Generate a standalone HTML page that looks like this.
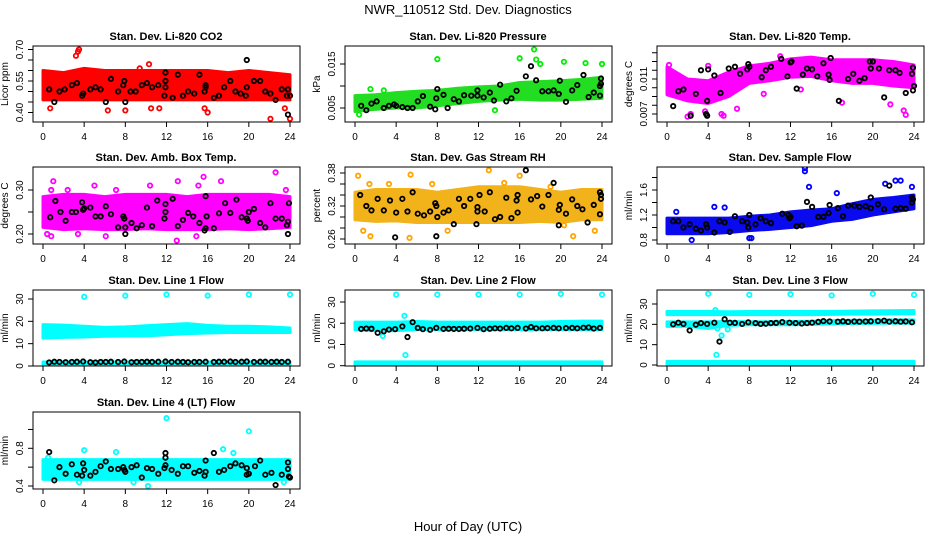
<!DOCTYPE html>
<html><head><meta charset="utf-8"><style>
html,body{margin:0;padding:0;background:#fff;}
svg{display:block;font-family:"Liberation Sans",Arial,sans-serif;}
</style></head><body>
<svg id="chart" width="936" height="540" viewBox="0 0 936 540" xmlns="http://www.w3.org/2000/svg">
<rect x="0" y="0" width="936" height="540" fill="#fff"/>
<text x="468" y="14" font-size="13" text-anchor="middle">NWR_110512  Std. Dev. Diagnostics</text>
<text x="468" y="531" font-size="13" text-anchor="middle">Hour of Day (UTC)</text>
<g id="panels"></g>
</svg>
<script>
// ---- data ----
const bandHours = [0,2,4,6,8,10,12,14,16,18,20,22,24];
const co2Lo = [0.46,0.46,0.46,0.46,0.46,0.46,0.46,0.46,0.46,0.46,0.46,0.46,0.46];
const co2Hi = [0.60,0.59,0.61,0.60,0.60,0.60,0.60,0.60,0.60,0.59,0.60,0.59,0.58];
const co2Out = [[3.2,0.67],[3.4,0.69],[3.5,0.70],[0.7,0.42],[6.3,0.41],[8.0,0.41],[10.5,0.42],[11.3,0.42],[15.7,0.42],[16.0,0.40],[22.1,0.37],[24.0,0.37],[10.3,0.63],[9.4,0.61],[23.5,0.42],[0.2,0.58],[6.0,0.59],[21.0,0.58]];
const co2Black = [[0.6,0.51],[1.1,0.45],[1.6,0.50],[2.1,0.51],[2.8,0.53],[3.3,0.54],[3.8,0.48],[3.9,0.49],[4.6,0.51],[5.1,0.52],[5.6,0.51],[6.1,0.45],[6.6,0.56],[7.3,0.50],[7.8,0.53],[7.9,0.55],[8.0,0.45],[8.5,0.50],[9.0,0.50],[9.6,0.53],[10.1,0.54],[10.6,0.52],[11.2,0.53],[11.8,0.48],[11.9,0.55],[11.9,0.52],[11.9,0.59],[12.6,0.47],[13.1,0.58],[13.6,0.48],[14.1,0.50],[14.7,0.49],[15.2,0.58],[15.7,0.50],[15.8,0.53],[15.8,0.52],[16.6,0.47],[17.1,0.48],[17.6,0.52],[18.2,0.55],[18.7,0.50],[19.2,0.49],[19.7,0.48],[19.8,0.52],[19.8,0.65],[20.5,0.55],[21.1,0.55],[21.6,0.50],[22.1,0.49],[22.6,0.46],[23.2,0.51],[23.7,0.48],[23.8,0.51],[23.8,0.39],[24.0,0.48]];

const presLo = [0.0042,0.0047,0.005,0.005,0.0055,0.006,0.0065,0.0068,0.007,0.0068,0.0068,0.007,0.0072];
const presHi = [0.0078,0.008,0.0085,0.0088,0.009,0.0095,0.0098,0.0100,0.0108,0.011,0.0112,0.0115,0.012];
const presOut = [[8,0.0161],[16,0.0163],[17.4,0.0183],[17.6,0.016],[18,0.015],[20.3,0.0155],[22.4,0.0152],[24,0.0150],[0.4,0.0035],[1.5,0.0093],[13.6,0.0045],[2.8,0.009]];
const presBlack = [[0.6,0.0055],[1.1,0.0045],[1.6,0.006],[2.1,0.0065],[2.8,0.005],[3.3,0.0055],[3.8,0.0058],[4.0,0.0055],[4.6,0.0052],[5.1,0.005],[5.6,0.005],[6.1,0.0065],[6.6,0.0077],[7.3,0.0053],[7.8,0.0047],[7.9,0.0072],[8.0,0.0093],[8.6,0.008],[9.0,0.005],[9.6,0.007],[10.1,0.0065],[10.6,0.0079],[11.3,0.0078],[11.9,0.0078],[11.9,0.009],[12.5,0.0074],[13.1,0.0085],[13.5,0.0067],[14.1,0.0103],[14.7,0.0065],[15.2,0.0072],[15.7,0.0089],[16.6,0.0122],[17.1,0.0145],[17.6,0.0113],[18.2,0.0088],[18.8,0.0088],[19.3,0.009],[19.8,0.0082],[19.9,0.0112],[20.5,0.0064],[21.1,0.009],[21.6,0.0102],[22.2,0.0125],[22.7,0.0075],[23.2,0.0085],[23.8,0.0078],[23.8,0.010],[23.9,0.0105],[23.9,0.0117]];

const tempLo = [0.0092,0.0085,0.0082,0.0090,0.0105,0.0108,0.0112,0.0113,0.0108,0.0105,0.0105,0.0102,0.0100];
const tempHi = [0.0124,0.0110,0.0108,0.0118,0.0125,0.0128,0.0133,0.0135,0.0132,0.0132,0.0132,0.0130,0.0126];
const tempOut = [[2,0.0067],[2.3,0.007],[5.3,0.007],[5.5,0.0068],[3.7,0.0073],[6.8,0.0076],[17,0.0083],[21.7,0.0081],[23,0.0074],[23.2,0.0069],[9.4,0.0093],[13,0.0098],[0.2,0.0126],[4,0.0125],[11,0.0136]];
const tempBlack = [[0.6,0.0079],[1.1,0.0096],[1.6,0.0098],[2.3,0.0068],[2.8,0.0093],[3.3,0.0120],[3.8,0.0070],[3.9,0.0068],[3.9,0.0085],[4.0,0.0121],[4.6,0.0114],[5.2,0.0094],[6.0,0.0122],[6.6,0.0124],[7.1,0.0116],[7.8,0.0121],[7.9,0.0127],[8.0,0.0124],[9.2,0.0112],[9.6,0.0120],[10.1,0.0124],[11.1,0.0133],[11.7,0.0113],[12.0,0.0129],[12.1,0.0130],[12.6,0.0099],[13.2,0.0115],[13.6,0.0122],[14.1,0.0121],[14.6,0.0113],[15.2,0.0128],[15.7,0.0115],[15.8,0.0109],[15.9,0.0134],[16.7,0.0085],[17.6,0.0110],[18.1,0.0116],[18.7,0.0108],[19.2,0.0111],[19.7,0.0130],[19.8,0.0122],[20.0,0.0130],[20.6,0.0122],[21.1,0.0089],[21.6,0.0120],[22.2,0.0120],[22.6,0.0117],[23.2,0.0094],[23.8,0.0116],[23.9,0.0123],[23.9,0.0097],[24,0.0102]];

const ambLo = [0.215,0.21,0.212,0.21,0.21,0.212,0.21,0.21,0.21,0.212,0.21,0.212,0.215];
const ambHi = [0.285,0.29,0.29,0.285,0.29,0.29,0.29,0.285,0.29,0.29,0.29,0.29,0.285];
const ambOut = [[0.4,0.20],[0.8,0.195],[0.8,0.30],[1.0,0.32],[2.4,0.30],[3.4,0.20],[5.0,0.31],[6.1,0.195],[7.1,0.30],[10.4,0.31],[13.0,0.185],[13.1,0.32],[14.9,0.195],[15.1,0.31],[15.6,0.33],[17.3,0.32],[22.6,0.34],[23.6,0.30]];
const ambBlack = [[0.7,0.238],[1.2,0.275],[1.7,0.25],[2.2,0.23],[2.8,0.25],[3.2,0.25],[3.8,0.272],[3.9,0.255],[4.0,0.258],[4.6,0.26],[5.1,0.24],[5.6,0.24],[6.1,0.263],[6.6,0.245],[7.3,0.215],[7.8,0.24],[7.9,0.235],[8.0,0.215],[8.0,0.20],[8.6,0.225],[9.1,0.213],[9.6,0.22],[10.1,0.26],[10.6,0.218],[11.1,0.276],[11.8,0.235],[11.9,0.25],[11.9,0.268],[12.6,0.28],[13.1,0.218],[13.6,0.232],[14.1,0.248],[14.6,0.24],[15.2,0.225],[15.7,0.208],[15.8,0.213],[15.8,0.286],[15.9,0.24],[16.6,0.213],[17.1,0.247],[17.7,0.27],[18.2,0.248],[18.8,0.278],[19.3,0.238],[19.8,0.235],[19.9,0.23],[20.0,0.25],[20.5,0.257],[21.1,0.225],[21.6,0.215],[22.1,0.27],[22.6,0.235],[23.2,0.235],[23.7,0.22],[23.8,0.228],[23.8,0.20],[23.9,0.27]];

const rhLo = [0.295,0.292,0.293,0.29,0.29,0.29,0.29,0.29,0.29,0.292,0.29,0.295,0.295];
const rhHi = [0.345,0.35,0.35,0.35,0.345,0.35,0.355,0.355,0.355,0.35,0.345,0.35,0.35];
const rhOut = [[0.3,0.375],[0.8,0.275],[1.4,0.36],[1.5,0.265],[5.4,0.377],[5.3,0.262],[7.5,0.36],[9.0,0.275],[13.0,0.385],[16.0,0.375],[19.0,0.355],[21.2,0.265],[23.3,0.275],[20.3,0.285],[3.3,0.36],[14.5,0.362]];
const rhBlack = [[0.5,0.34],[1.1,0.32],[1.6,0.312],[2.2,0.333],[2.8,0.312],[3.4,0.33],[3.9,0.263],[4.0,0.308],[4.6,0.333],[5.1,0.31],[5.6,0.345],[6.1,0.306],[6.7,0.303],[7.3,0.31],[7.8,0.325],[7.9,0.32],[8.0,0.30],[7.9,0.265],[8.6,0.308],[9.1,0.312],[9.6,0.287],[10.1,0.333],[10.6,0.32],[11.2,0.333],[11.9,0.318],[11.9,0.31],[11.8,0.287],[12.1,0.34],[12.6,0.31],[13.1,0.345],[13.6,0.296],[14.1,0.3],[14.7,0.335],[15.2,0.298],[15.7,0.33],[15.8,0.34],[15.8,0.308],[16.6,0.385],[17.1,0.332],[17.7,0.338],[18.2,0.319],[18.8,0.34],[19.3,0.362],[19.8,0.313],[19.8,0.285],[19.9,0.322],[20.5,0.306],[21.1,0.332],[21.6,0.32],[22.1,0.314],[22.6,0.29],[23.2,0.322],[23.8,0.305],[23.8,0.345],[23.9,0.333],[23.9,0.34]];

const flowLo = [0.9,0.9,0.9,0.92,0.95,0.97,1.0,1.03,1.1,1.13,1.2,1.25,1.3];
const flowHi = [1.15,1.15,1.15,1.15,1.18,1.2,1.25,1.28,1.3,1.38,1.45,1.48,1.52];
const flowOut = [[13.4,1.95],[13.4,1.9],[13.8,1.65],[2.4,0.8],[8.0,0.83],[8.2,0.83],[4.6,1.33],[16.5,1.55],[22.2,1.75],[22.7,1.75],[23.8,1.65],[21.2,1.7],[0.9,1.25],[5.6,1.32]];
const flowBlack = [[0.6,1.1],[1.1,1.1],[1.6,1.0],[2.2,1.05],[2.8,0.98],[3.3,0.95],[3.8,1.05],[3.9,1.0],[4.6,0.92],[5.1,1.1],[5.6,1.08],[6.1,0.93],[6.6,1.18],[7.3,1.1],[7.8,1.08],[7.9,1.0],[8.0,1.2],[8.6,1.05],[9.1,1.15],[9.6,1.1],[10.1,1.07],[11.2,1.22],[11.8,1.2],[11.9,1.15],[12.0,1.17],[12.6,1.02],[13.1,1.03],[13.6,1.41],[14.1,1.33],[14.7,1.17],[15.2,1.17],[15.7,1.23],[15.8,1.36],[16.6,1.31],[17.1,1.18],[17.6,1.35],[18.2,1.35],[18.7,1.33],[19.3,1.34],[19.8,1.31],[19.8,1.48],[20.5,1.37],[21.1,1.29],[21.6,1.67],[22.2,1.30],[22.7,1.31],[23.2,1.3],[23.8,1.4],[23.8,1.48],[23.9,1.45]];

const lineHours = [0.6,1.1,1.6,2.2,2.8,3.3,3.9,4.6,5.1,5.6,6.1,6.6,7.3,7.9,8.6,9.1,9.6,10.1,10.6,11.2,11.9,12.5,13.1,13.6,14.1,14.7,15.2,15.8,16.6,17.1,17.6,18.2,18.7,19.3,19.8,20.5,21.1,21.6,22.2,22.7,23.2,23.8];
const line1Val = [1.6,1.9,1.8,1.7,1.8,1.9,2.0,1.7,1.6,1.8,1.8,1.9,1.8,2.0,1.7,1.8,1.8,1.9,1.8,1.9,2.0,1.8,1.9,1.8,1.7,1.8,1.8,1.9,1.8,1.9,1.9,2.0,1.8,1.9,2.0,1.8,1.9,1.9,1.8,1.9,1.8,1.9];
const line2Val = [17.3,17.5,17.4,15.5,16.2,17.0,17.2,18.5,13.5,20.5,17.8,17.2,16.9,17.8,17.3,17.4,17.3,17.3,17.4,17.5,17.8,17.2,17.4,17.6,17.5,17.8,17.6,17.8,17.5,18.2,17.6,17.6,17.7,17.8,17.6,17.7,17.8,17.6,17.9,18.0,17.5,17.8];
const line3Val = [20.0,20.8,20.2,17.0,19.8,20.6,20.2,20.8,11.5,22.5,20.8,20.7,20.2,21.0,20.6,20.2,20.3,20.6,20.7,21.1,20.8,20.6,20.4,20.6,20.8,21.2,21.6,21.4,21.3,21.5,21.2,21.4,21.3,21.4,21.5,21.6,21.8,21.3,21.5,21.3,21.4,21.0];

const line1Lo = [12.5,12.8,13.0,13.3,13.5,13.5,14.0,14.5,14.8,15.0,15.0,15.0,15.0];
const line1Hi = [18.5,18.3,17.8,17.3,17.5,18.0,18.5,19.0,18.2,17.8,17.8,17.5,17.0];
const line1LowLo = [0.8,0.8,0.8,0.8,0.8,0.8,0.8,0.8,0.8,0.8,0.8,0.8,0.8];
const line1LowHi = [1.8,1.8,1.8,1.8,1.8,1.8,1.8,1.8,1.8,1.8,1.8,1.8,1.8];
const line1Out = [[4,31],[8,31.5],[12,32],[16,31.5],[20,32],[24,32]];

const line2Lo = [17.0,16.5,16.5,17.0,17.0,17.0,17.0,17.0,17.0,17.0,17.0,17.0,17.0];
const line2Hi = [20.5,20.5,20.5,20.8,20.5,20.5,20.5,20.5,20.5,20.5,20.8,21.0,21.0];
const line2LowLo = [0.2,0.2,0.2,0.2,0.2,0.2,0.2,0.2,0.2,0.2,0.2,0.2,0.2];
const line2LowHi = [1.8,1.8,1.8,1.8,1.8,1.8,1.8,1.8,1.8,1.8,1.8,1.8,1.8];
const line2Out = [[4,33.5],[8,33.5],[12,33.5],[16,33.5],[20,33.8],[24,33.5],[2.7,14],[4.8,23.5],[4.9,5]];

const line3TopLo = [24.8,24.8,24.8,24.8,24.8,24.8,24.8,24.8,24.9,25.0,25.0,25.2,25.2];
const line3TopHi = [26.3,26.3,26.3,26.2,26.3,26.3,26.3,26.3,26.4,26.5,26.6,26.7,26.8];
const line3MidLo = [19.0,19.0,18.0,19.5,19.8,19.8,19.8,20.0,20.2,20.4,20.5,20.6,20.6];
const line3MidHi = [21.2,21.2,21.2,21.4,21.3,21.3,21.4,21.5,21.8,22.0,22.0,22.2,22.2];
const line3LowLo = [0.4,0.4,0.4,0.4,0.4,0.4,0.4,0.4,0.4,0.4,0.4,0.4,0.4];
const line3LowHi = [1.8,1.8,1.8,1.8,1.8,1.8,1.8,1.8,1.8,1.8,1.8,1.8,1.8];
const line3Out = [[4,35],[8,34.5],[12,34.8],[16,34.2],[20,35],[24,34.5],[4.7,27],[4.8,5],[5.3,14.5],[4.9,18],[5.9,17.5]];

const line4Lo = [0.47,0.47,0.47,0.47,0.47,0.47,0.47,0.47,0.47,0.47,0.47,0.47,0.47];
const line4Hi = [0.68,0.68,0.68,0.68,0.68,0.68,0.68,0.68,0.68,0.68,0.68,0.68,0.68];
const line4Out = [[12,1.12],[20,0.98],[4,0.78],[17.5,0.79],[10.2,0.40],[7.1,0.76],[18.5,0.75],[0.5,0.70],[23.4,0.44],[3.5,0.44],[8.8,0.44]];
const line4Black = [[0.6,0.76],[1.1,0.46],[1.6,0.6],[2.2,0.53],[2.8,0.63],[3.3,0.52],[3.8,0.51],[3.9,0.64],[4.0,0.57],[4.6,0.51],[5.1,0.55],[5.6,0.61],[6.1,0.66],[6.6,0.58],[7.3,0.58],[7.8,0.6],[7.9,0.57],[8.0,0.55],[8.6,0.6],[9.1,0.62],[9.6,0.49],[10.1,0.59],[10.6,0.58],[11.2,0.53],[11.8,0.59],[11.9,0.70],[11.9,0.75],[11.9,0.62],[12.5,0.57],[13.1,0.53],[13.6,0.61],[14.1,0.61],[14.7,0.54],[15.2,0.56],[15.7,0.51],[15.8,0.67],[15.8,0.55],[16.6,0.75],[17.1,0.55],[17.6,0.57],[18.2,0.61],[18.7,0.64],[19.3,0.62],[19.8,0.52],[19.8,0.59],[20.0,0.53],[20.6,0.61],[21.1,0.67],[21.6,0.52],[22.2,0.54],[22.6,0.41],[23.2,0.52],[23.8,0.65],[23.8,0.58],[23.9,0.5],[24,0.49]];

const xTicks = [0,4,8,12,16,20,24];

// ---- rendering ----
const NS = 'http://www.w3.org/2000/svg';
const root = document.getElementById('panels');
const colL = [33,345,657];
const rowT = [46,167,290,412];
const rowB = [122,244,366,489];
function mk(tag, attrs, parent){ const e=document.createElementNS(NS,tag); for(const k in attrs) e.setAttribute(k,attrs[k]); parent.appendChild(e); return e; }
function pairs(hrs, vals){ return hrs.map((h,i)=>[h,vals[i]]); }

function panel(cfg){
  const L = colL[cfg.col], T = rowT[cfg.row], B = rowB[cfg.row];
  const g = mk('g',{},root);
  
  
  const xs = h => L + 10 + h*(247/24);
  const k = (cfg.p2 - cfg.p1)/(cfg.v2 - cfg.v1);
  const ys = v => cfg.p1 + (v - cfg.v1)*k;
  const clip = 'clip-' + cfg.name;
  const cp = mk('clipPath',{id:clip},g);
  mk('rect',{x:L,y:T,width:267,height:B-T},cp);
  const plot = mk('g',{'clip-path':'url(#'+clip+')'},g);
  cfg.bands.forEach((b,bi)=>{
    let pts = bandHours.map((h,i)=>xs(h)+','+ys(b.hi[i]));
    pts = pts.concat(bandHours.slice().reverse().map((h,j)=>{const i=bandHours.length-1-j; return xs(h)+','+ys(b.lo[i]);}));
    const p = mk('polygon',{points:pts.join(' '),fill:b.fill,stroke:b.fill,'stroke-width':3,'stroke-linejoin':'round'},plot);
    
    
  });
  cfg.out.forEach(d=>{
    const c = mk('circle',{cx:xs(d[0]),cy:ys(d[1]),r:2.2,fill:'none',stroke:cfg.color,'stroke-width':1.8},plot);
    
    
  });
  cfg.black.forEach(d=>{
    const c = mk('circle',{cx:xs(d[0]),cy:ys(d[1]),r:2.2,fill:'none',stroke:'#000','stroke-width':1.8},plot);
    
    
  });
  const box = mk('rect',{x:L,y:T,width:267,height:B-T,fill:'none',stroke:'#000','stroke-width':1},g);
  
  
  mk('line',{x1:xs(0),x2:xs(24),y1:B,y2:B,stroke:'#000'},g);
  xTicks.forEach(t=>{
    mk('line',{x1:xs(t),x2:xs(t),y1:B,y2:B+5,stroke:'#000'},g);
    const tx = mk('text',{x:xs(t),y:B+18,'font-size':10,'text-anchor':'middle'},g);
    tx.textContent = t;
    
    
  });
  const yt = cfg.yticks;
  mk('line',{x1:L,x2:L,y1:ys(yt[0]),y2:ys(yt[yt.length-1]),stroke:'#000'},g);
  yt.forEach(v=>{ mk('line',{x1:L-5,x2:L,y1:ys(v),y2:ys(v),stroke:'#000'},g); });
  cfg.ylabels.forEach(v=>{
    const y = ys(v), x = L-10;
    const tx = mk('text',{x:x,y:y,'font-size':10,'text-anchor':'middle',transform:'rotate(-90 '+x+' '+y+')'},g);
    tx.textContent = v.toFixed(cfg.dec);
    
    
  });
  const ym = (T+B)/2, yx = L-25;
  const yl = mk('text',{x:yx,y:ym,'font-size':10,'text-anchor':'middle',transform:'rotate(-90 '+yx+' '+ym+')'},g);
  yl.textContent = cfg.ylab;
  
  
  const ti = mk('text',{x:L+133,y:T-6,'font-size':11,'font-weight':'bold','text-anchor':'middle'},g);
  ti.textContent = cfg.title;
  
  
}

const CY='#00ffff';
panel({name:'co2',col:0,row:0,title:'Stan. Dev. Li-820 CO2',ylab:'Licor ppm',v1:0.40,p1:112.5,v2:0.70,p2:49.5,yticks:[0.40,0.45,0.50,0.55,0.60,0.65,0.70],ylabels:[0.40,0.55,0.70],dec:2,color:'#ff0000',bands:[{lo:co2Lo,hi:co2Hi,fill:'#ff0000'}],out:co2Out,black:co2Black});
panel({name:'pressure',col:1,row:0,title:'Stan. Dev. Li-820 Pressure',ylab:'kPa',v1:0.005,p1:108,v2:0.015,p2:64,yticks:[0.005,0.010,0.015],ylabels:[0.005,0.015],dec:3,color:'#00ee00',bands:[{lo:presLo,hi:presHi,fill:'#22dd22'}],out:presOut,black:presBlack});
panel({name:'li820-temp',col:2,row:0,title:'Stan. Dev. Li-820 Temp.',ylab:'degrees C',v1:0.007,p1:114,v2:0.011,p2:79,yticks:[0.007,0.008,0.009,0.010,0.011,0.012,0.013,0.014],ylabels:[0.007,0.011],dec:3,color:'#ff00ff',bands:[{lo:tempLo,hi:tempHi,fill:'#ff00ff'}],out:tempOut,black:tempBlack});
panel({name:'amb-box-temp',col:0,row:1,title:'Stan. Dev. Amb. Box Temp.',ylab:'degrees C',v1:0.20,p1:234,v2:0.30,p2:190,yticks:[0.20,0.25,0.30],ylabels:[0.20,0.30],dec:2,color:'#ff00ff',bands:[{lo:ambLo,hi:ambHi,fill:'#ff00ff'}],out:ambOut,black:ambBlack});
panel({name:'gas-rh',col:1,row:1,title:'Stan. Dev. Gas Stream RH',ylab:'percent',v1:0.26,p1:239,v2:0.38,p2:173,yticks:[0.26,0.28,0.30,0.32,0.34,0.36,0.38],ylabels:[0.26,0.32,0.38],dec:2,color:'#ffa500',bands:[{lo:rhLo,hi:rhHi,fill:'#f2b21a'}],out:rhOut,black:rhBlack});
panel({name:'sample-flow',col:2,row:1,title:'Stan. Dev. Sample Flow',ylab:'ml/min',v1:0.8,p1:240,v2:1.6,p2:190,yticks:[0.8,1.0,1.2,1.4,1.6,1.8],ylabels:[0.8,1.2,1.6],dec:1,color:'#0000ff',bands:[{lo:flowLo,hi:flowHi,fill:'#0a0aee'}],out:flowOut,black:flowBlack});
panel({name:'line1-flow',col:0,row:2,title:'Stan. Dev. Line 1 Flow',ylab:'ml/min',v1:0,p1:366,v2:30,p2:299,yticks:[0,10,20,30],ylabels:[0,10,20,30],dec:0,color:CY,bands:[{lo:line1Lo,hi:line1Hi,fill:CY},{lo:line1LowLo,hi:line1LowHi,fill:CY}],out:line1Out,black:pairs(lineHours,line1Val)});
panel({name:'line2-flow',col:1,row:2,title:'Stan. Dev. Line 2 Flow',ylab:'ml/min',v1:0,p1:365.7,v2:30,p2:302,yticks:[0,10,20,30],ylabels:[0,10,20,30],dec:0,color:CY,bands:[{lo:line2Lo,hi:line2Hi,fill:CY},{lo:line2LowLo,hi:line2LowHi,fill:CY}],out:line2Out,black:pairs(lineHours,line2Val)});
panel({name:'line3-flow',col:2,row:2,title:'Stan. Dev. Line 3 Flow',ylab:'ml/min',v1:0,p1:365,v2:30,p2:304,yticks:[0,10,20,30],ylabels:[0,10,20,30],dec:0,color:CY,bands:[{lo:line3TopLo,hi:line3TopHi,fill:CY},{lo:line3MidLo,hi:line3MidHi,fill:CY},{lo:line3LowLo,hi:line3LowHi,fill:CY}],out:line3Out,black:pairs(lineHours,line3Val)});
panel({name:'line4-flow',col:0,row:3,title:'Stan. Dev. Line 4 (LT) Flow',ylab:'ml/min',v1:0.4,p1:486,v2:0.8,p2:448.3,yticks:[0.4,0.6,0.8,1.0],ylabels:[0.4,0.8],dec:1,color:CY,bands:[{lo:line4Lo,hi:line4Hi,fill:CY}],out:line4Out,black:line4Black});
</script>
</body></html>
